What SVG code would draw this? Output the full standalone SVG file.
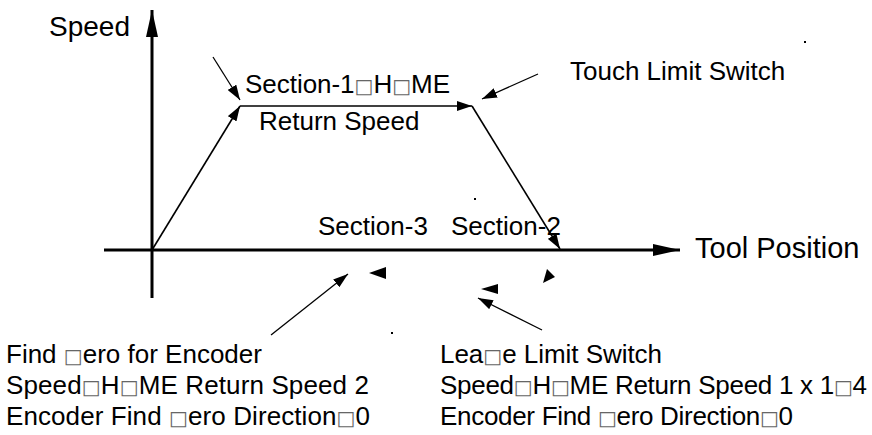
<svg xmlns="http://www.w3.org/2000/svg" width="872" height="435" viewBox="0 0 872 435">
<style>
text{font-family:"Liberation Sans",Arial,sans-serif;font-size:26px;fill:#000}
.ax{stroke:#000;stroke-width:3;fill:none}
.ln{stroke:#000;stroke-width:1.6;fill:none}
.an{stroke:#000;stroke-width:1.3;fill:none}
.tofu{font-family:"DejaVu Sans",sans-serif;fill:#666;font-size:20px}
.hd{fill:#000}
</style>
<defs>
<marker id="big" markerUnits="userSpaceOnUse" markerWidth="28" markerHeight="12" refX="27" refY="6" orient="auto"><path d="M0,0 L27,6 L0,12 Z" fill="#000"/></marker>
<marker id="sm" markerUnits="userSpaceOnUse" markerWidth="16" markerHeight="10" refX="15" refY="5" orient="auto"><path d="M0,0 L15,5 L0,10 Z" fill="#000"/></marker>
</defs>
<rect width="872" height="435" fill="#fff"/>
<g id="connectors">
<line class="ax" x1="152" y1="298" x2="152" y2="10" marker-end="url(#big)"/>
<line class="ax" x1="104" y1="250" x2="680" y2="250" marker-end="url(#big)"/>
<line class="ln" x1="152" y1="250" x2="240" y2="106" marker-end="url(#sm)"/>
<line class="ln" x1="240" y1="106" x2="472" y2="106" marker-end="url(#sm)"/>
<line class="ln" x1="472" y1="106" x2="560" y2="249" marker-end="url(#sm)"/>
<line class="an" x1="213" y1="57" x2="240" y2="100" marker-end="url(#sm)"/>
<line class="an" x1="538" y1="74" x2="482" y2="99" marker-end="url(#sm)"/>
<line class="an" x1="271" y1="335" x2="348" y2="274" marker-end="url(#sm)"/>
<line class="an" x1="542" y1="330" x2="478" y2="298" marker-end="url(#sm)"/>
<polygon class="hd" points="369,273 386,267 386,279"/>
<polygon class="hd" points="481,289 498,284 498,294"/>
<polygon class="hd" points="547,269 555,277 543,283"/>
<rect x="804" y="41" width="2" height="2"/>
<rect x="474" y="198" width="2" height="2"/>
<rect x="391" y="332" width="2" height="2"/>
</g>
<g id="speed-label"><text x="49" y="36" style="font-size:28px">Speed</text></g>
<g id="tool-position-label"><text x="695" y="258" style="font-size:29px">Tool Position</text></g>
<g id="section1"><text x="245" y="93" textLength="205" lengthAdjust="spacing">Section-1<tspan class="tofu">□</tspan>H<tspan class="tofu">□</tspan>ME</text><text x="259" y="130">Return Speed</text></g>
<g id="touch-limit"><text x="570" y="80">Touch Limit Switch</text></g>
<g id="section3"><text x="318" y="235">Section-3</text></g>
<g id="section2"><text x="451" y="235">Section-2</text></g>
<g id="find-zero">
<text x="6" y="363">Find <tspan class="tofu">□</tspan>ero for Encoder</text>
<text x="6" y="394" textLength="363" lengthAdjust="spacing">Speed<tspan class="tofu">□</tspan>H<tspan class="tofu">□</tspan>ME Return Speed 2</text>
<text x="6" y="425" textLength="364" lengthAdjust="spacing">Encoder Find <tspan class="tofu">□</tspan>ero Direction<tspan class="tofu">□</tspan>0</text>
</g>
<g id="leave-limit">
<text x="440" y="363" textLength="222" lengthAdjust="spacing">Lea<tspan class="tofu">□</tspan>e Limit Switch</text>
<text x="440" y="394" textLength="427" lengthAdjust="spacing">Speed<tspan class="tofu">□</tspan>H<tspan class="tofu">□</tspan>ME Return Speed 1 x 1<tspan class="tofu">□</tspan>4</text>
<text x="440" y="425" textLength="353" lengthAdjust="spacing">Encoder Find <tspan class="tofu">□</tspan>ero Direction<tspan class="tofu">□</tspan>0</text>
</g>
</svg>
